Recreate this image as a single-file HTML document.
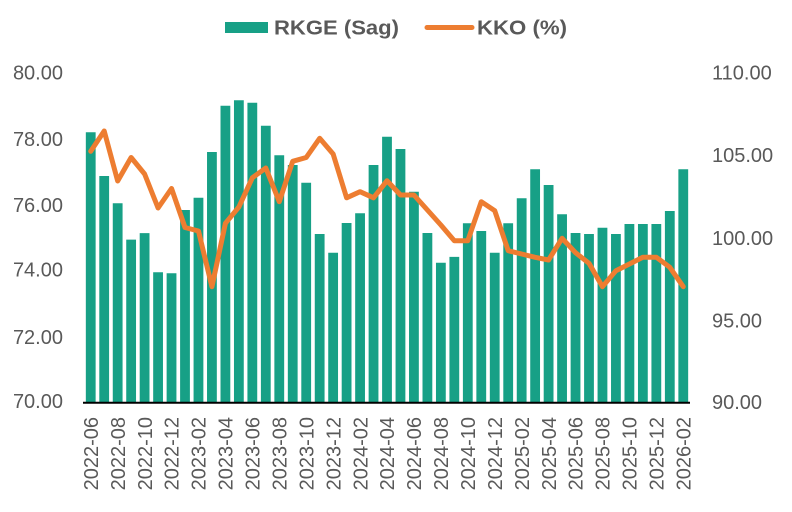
<!DOCTYPE html>
<html>
<head>
<meta charset="utf-8">
<style>
html,body{margin:0;padding:0;background:#fff;}
svg{display:block;}
text{font-family:"Liberation Sans",sans-serif;fill:#595959;}
</style>
</head>
<body>
<svg width="792" height="512" viewBox="0 0 792 512" xmlns="http://www.w3.org/2000/svg">
<rect width="792" height="512" fill="#fff"/>
<rect x="225" y="22" width="43" height="11" fill="#17A086"/>
<text x="274" y="34.3" font-size="20" font-weight="bold" textLength="125" lengthAdjust="spacingAndGlyphs">RKGE (Sag)</text>
<line x1="427" y1="27.5" x2="472" y2="27.5" stroke="#ED7D31" stroke-width="5" stroke-linecap="round"/>
<text x="477" y="34.3" font-size="20" font-weight="bold" textLength="90" lengthAdjust="spacingAndGlyphs">KKO (%)</text>
<text font-size="20" text-anchor="end"><tspan x="63" y="79.3">80.00</tspan><tspan x="63" y="145.8">78.00</tspan><tspan x="63" y="211.8">76.00</tspan><tspan x="63" y="276.5">74.00</tspan><tspan x="63" y="343.8">72.00</tspan><tspan x="63" y="408">70.00</tspan></text>
<text font-size="20"><tspan x="712" y="79.5">110.00</tspan><tspan x="712" y="162">105.00</tspan><tspan x="712" y="245">100.00</tspan><tspan x="712" y="327.3">95.00</tspan><tspan x="712" y="409">90.00</tspan></text>
<path fill="#17A086" d="M85.83 402V132.3h9.8V402z M99.3 402V176h9.8V402z M112.77 402V203.3h9.8V402z M126.23 402V239.6h9.8V402z M139.7 402V233.1h9.8V402z M153.17 402V272.3h9.8V402z M166.63 402V273.3h9.8V402z M180.1 402V210h9.8V402z M193.57 402V197.8h9.8V402z M207.03 402V152h9.8V402z M220.5 402V105.8h9.8V402z M233.97 402V100.3h9.8V402z M247.43 402V102.8h9.8V402z M260.9 402V125.8h9.8V402z M274.37 402V155.3h9.8V402z M287.83 402V165h9.8V402z M301.3 402V182.7h9.8V402z M314.77 402V234h9.8V402z M328.23 402V252.7h9.8V402z M341.7 402V223h9.8V402z M355.17 402V213.2h9.8V402z M368.63 402V165h9.8V402z M382.1 402V136.7h9.8V402z M395.57 402V149h9.8V402z M409.03 402V191.7h9.8V402z M422.5 402V233h9.8V402z M435.97 402V262.7h9.8V402z M449.43 402V256.9h9.8V402z M462.9 402V223.2h9.8V402z M476.37 402V231h9.8V402z M489.83 402V252.7h9.8V402z M503.3 402V223.2h9.8V402z M516.77 402V198.2h9.8V402z M530.23 402V169.3h9.8V402z M543.7 402V185h9.8V402z M557.17 402V214.3h9.8V402z M570.63 402V233h9.8V402z M584.1 402V234h9.8V402z M597.57 402V227.7h9.8V402z M611.03 402V234h9.8V402z M624.5 402V224h9.8V402z M637.97 402V224h9.8V402z M651.43 402V224h9.8V402z M664.9 402V211h9.8V402z M678.37 402V169.3h9.8V402z"/>
<line x1="83" y1="402.7" x2="690" y2="402.7" stroke="#000" stroke-width="2"/>
<polyline fill="none" stroke="#ED7D31" stroke-width="5" stroke-linejoin="round" stroke-linecap="round" points="90.73,151.3 104.2,131 117.67,181 131.13,157.5 144.6,174 158.07,208 171.53,188.5 185,227.5 198.47,231 211.93,286.7 225.4,223.3 238.87,207 252.33,177.8 265.8,168 279.27,201.7 292.73,161.3 306.2,157.5 319.67,138.3 333.13,154 346.6,197.8 360.07,191.7 373.53,197.8 387,180.7 400.47,195 413.93,195 427.4,210 440.87,225 454.33,240.7 467.8,240.7 481.27,201.7 494.73,210.7 508.2,250.7 521.67,254 535.13,257.3 548.6,260 562.07,238.3 575.53,252.7 589,263.3 602.47,286.7 615.93,270.7 629.4,264 642.87,257.3 656.33,257.3 669.8,267.3 683.27,286.7"/>
<g transform="rotate(-90)">
<text font-size="20" text-anchor="end"><tspan x="-417" y="97.9">2022-06</tspan><tspan x="-417" y="124.9">2022-08</tspan><tspan x="-417" y="151.8">2022-10</tspan><tspan x="-417" y="178.7">2022-12</tspan><tspan x="-417" y="205.7">2023-02</tspan><tspan x="-417" y="232.6">2023-04</tspan><tspan x="-417" y="259.5">2023-06</tspan><tspan x="-417" y="286.5">2023-08</tspan><tspan x="-417" y="313.4">2023-10</tspan><tspan x="-417" y="340.3">2023-12</tspan><tspan x="-417" y="367.3">2024-02</tspan><tspan x="-417" y="394.2">2024-04</tspan><tspan x="-417" y="421.1">2024-06</tspan><tspan x="-417" y="448.1">2024-08</tspan><tspan x="-417" y="475">2024-10</tspan><tspan x="-417" y="501.9">2024-12</tspan><tspan x="-417" y="528.9">2025-02</tspan><tspan x="-417" y="555.8">2025-04</tspan><tspan x="-417" y="582.7">2025-06</tspan><tspan x="-417" y="609.7">2025-08</tspan><tspan x="-417" y="636.6">2025-10</tspan><tspan x="-417" y="663.5">2025-12</tspan><tspan x="-417" y="690.5">2026-02</tspan></text>
</g>
</svg>
</body>
</html>
